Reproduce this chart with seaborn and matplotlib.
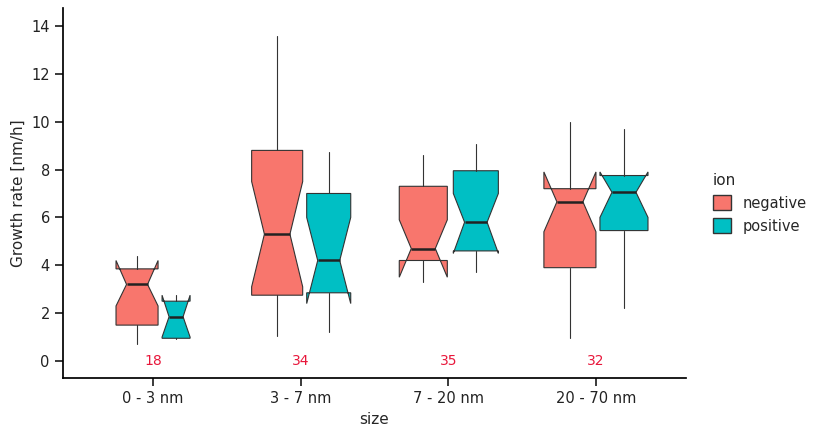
import matplotlib
matplotlib.use("Agg")
import matplotlib.pyplot as plt
import seaborn as sns
from matplotlib.patches import Patch

categories = ["0 - 3 nm", "3 - 7 nm", "7 - 20 nm", "20 - 70 nm"]
counts = [18, 34, 35, 32]
ions = ["negative", "positive"]
# per category: [negative, positive]
whislo = [[0.7, 0.9], [1.05, 1.2], [3.3, 3.7], [0.95, 2.2]]
q1 = [[1.5, 0.95], [2.75, 2.85], [4.2, 4.6], [3.9, 5.45]]
cilo = [[2.3, 1.0], [3.1, 2.4], [3.5, 4.5], [5.4, 6.0]]
med = [[3.2, 1.85], [5.3, 4.2], [4.7, 5.8], [6.65, 7.05]]
cihi = [[4.2, 2.75], [7.5, 6.0], [5.9, 7.0], [7.9, 7.9]]
q3 = [[3.85, 2.5], [8.8, 7.0], [7.3, 7.95], [7.2, 7.75]]
whishi = [[4.4, 2.75], [13.6, 8.75], [8.6, 9.05], [10.0, 9.7]]

colors = ["#F8766D", "#00BFC4"]
px = 147.5
box_w = [[42, 28], [51, 44], [48, 45], [52, 48]]
box_off = [[-16, 23], [-23.5, 28], [-25, 27.5], [-26, 28]]

sns.set_theme(style="ticks")
fig = plt.figure(figsize=(8.18, 4.4), dpi=100)
ax = fig.add_axes([63/818, 62/440, (686-63)/818, (378-8)/440])

for i in range(len(categories)):
    for j in range(2):
        st = dict(whislo=whislo[i][j], q1=q1[i][j], med=med[i][j], q3=q3[i][j],
                  whishi=whishi[i][j], cilo=cilo[i][j], cihi=cihi[i][j], fliers=[])
        ax.bxp([st], positions=[i + box_off[i][j]/px], widths=[box_w[i][j]/px],
               shownotches=True, patch_artist=True, showcaps=False, manage_ticks=False,
               boxprops=dict(facecolor=colors[j], edgecolor="#333333", linewidth=0.8),
               whiskerprops=dict(color="#333333", linewidth=0.8),
               medianprops=dict(color="#222222", linewidth=1.8))
    ax.text(i, 0, str(counts[i]), color="#E8173B", ha="center", va="center", fontsize=10)

ax.set_xlim(-0.61, 3.61)
ax.set_ylim(-0.71, 14.75)
ax.set_xticks(range(4))
ax.set_xticklabels(categories, fontsize=10.5, color="#222222")
ax.set_yticks(range(0, 15, 2))
ax.tick_params(labelsize=10.5, colors="#222222")
ax.set_xlabel("size", fontsize=11)
ax.set_ylabel("Growth rate [nm/h]", fontsize=11)
sns.despine(ax=ax)
for s in ["left", "bottom"]:
    ax.spines[s].set_color("black")

handles = [Patch(facecolor=c, edgecolor="#333333", label=l) for c, l in zip(colors, ions)]
fig.legend(handles=handles, title="ion", loc="upper left", bbox_to_anchor=(700/818, 1-160/440),
           frameon=False, fontsize=10.5, title_fontsize=11, alignment="left",
           handlelength=1.2, handleheight=1.2)
fig.savefig("out.png", dpi=100)
